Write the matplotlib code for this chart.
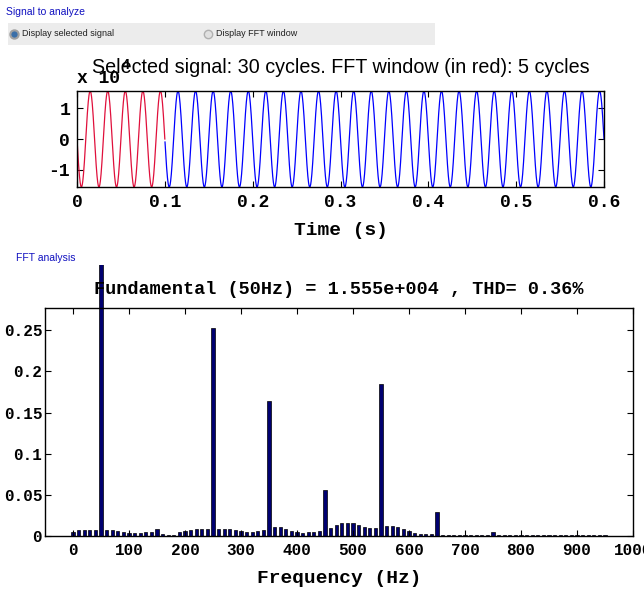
import numpy as np
import matplotlib
matplotlib.use('Agg')
import matplotlib.pyplot as plt
from matplotlib.lines import Line2D
from matplotlib.patches import Rectangle
from matplotlib.transforms import Bbox, TransformedBbox

plt.rcParams['axes.unicode_minus'] = False

# selected signal: 50 Hz, amplitude 1.555e4, 0.6 s, FFT window = first 0.1 s
f0 = 50
amp = 1.555          # x 10^4
t_end = 0.6
t_win = 0.1
time_ticks = [0, 0.1, 0.2, 0.3, 0.4, 0.5, 0.6]
time_labels = ['0', '0.1', '0.2', '0.3', '0.4', '0.5', '0.6']
sig_ticks = [-1, 0, 1]

# FFT bars, 10 Hz resolution (fundamental = 100)
freqs = list(range(0, 960, 10))
mags = [0.0045, 0.0078, 0.0078, 0.0078, 0.0078, 100, 0.007, 0.007, 0.0057, 0.0045,
        0.0033, 0.0033, 0.0033, 0.0045, 0.0045, 0.009, 0.003, 0.0016, 0.0016, 0.0045,
        0.0066, 0.0078, 0.009, 0.009, 0.009, 0.2529, 0.009, 0.009, 0.009, 0.0078,
        0.0057, 0.0045, 0.0045, 0.0066, 0.0078, 0.164, 0.0115, 0.0115, 0.009, 0.0066,
        0.0045, 0.0033, 0.0053, 0.0053, 0.0066, 0.0553, 0.0103, 0.013, 0.0156, 0.0164,
        0.0156, 0.013, 0.0115, 0.0103, 0.0103, 0.1844, 0.0123, 0.0123, 0.011, 0.009,
        0.0066, 0.0041, 0.003, 0.003, 0.003, 0.029, 0.0016, 0.0016, 0.0016, 0.0008,
        0.0008, 0.0008, 0.0016, 0.0016, 0.0016, 0.005, 0.0016, 0.0008, 0.0008, 0.0008,
        0.0008, 0.0008, 0.0008, 0.0008, 0.0008, 0.0008, 0.0008, 0.0008, 0.0008, 0.0008,
        0.0008, 0.0016, 0.0016, 0.0008, 0.0008, 0.0008]
freq_ticks = list(range(0, 1001, 100))
mag_ticks = [0, 0.05, 0.1, 0.15, 0.2, 0.25]
mag_labels = ['0', '0.05', '0.1', '0.15', '0.2', '0.25']

W, H = 644, 591
mono = dict(family='Liberation Mono', weight='bold')
narrow = ['Liberation Sans Narrow', 'Liberation Sans']

def px(x, y):
    return x / W, 1 - y / H

fig = plt.figure(figsize=(W / 100, H / 100), dpi=100)

# GUI bits around the plots
fig.text(*px(6, 12), 'Signal to analyze', color='#1010c0', fontsize=7.5,
         family=narrow, va='center')
fig.add_artist(Rectangle(px(8, 45), 427 / W, 22 / H, transform=fig.transFigure,
                         facecolor='#ececec', edgecolor='none'))
fig.add_artist(Line2D([14 / W], [1 - 34 / H], marker='o', markersize=6,
                      markerfacecolor='#3b6fa8', markeredgecolor='#a0a0a0',
                      markeredgewidth=1.5, transform=fig.transFigure))
fig.add_artist(Line2D([208 / W], [1 - 34 / H], marker='o', markersize=6,
                      markerfacecolor='#e0e0e0', markeredgecolor='#b0b0b0',
                      transform=fig.transFigure))
fig.text(*px(22, 34), 'Display selected signal', fontsize=6.5, family=narrow,
         va='center', color='#202020')
fig.text(*px(216, 34), 'Display FFT window', fontsize=6.5, family=narrow,
         va='center', color='#202020')
fig.text(*px(16, 258), 'FFT analysis', color='#1010c0', fontsize=7.5,
         family=narrow, va='center')

# ---- top: time signal
ax1 = fig.add_axes([77 / W, 1 - 187 / H, 527 / W, 96 / H])
t = np.linspace(0, t_end, 3001)
y = -amp * np.sin(2 * np.pi * f0 * t)
ax1.plot(t[t >= t_win], y[t >= t_win], color='#0000ff', lw=0.9)
ax1.plot(t[t <= t_win], y[t <= t_win], color='#e0103c', lw=0.9)
ax1.set_xlim(0, t_end)
ax1.set_ylim(-amp, amp)
ax1.set_xticks(time_ticks)
ax1.set_xticklabels(time_labels)
ax1.set_yticks(sig_ticks)
ax1.set_xlabel('Time (s)', fontsize=14, labelpad=8, **mono)
# exponent of the "x 10^4" multiplier sits under the title, as in the app
ax1.text(0, 1.04, 'x 10', transform=ax1.transAxes, fontsize=13, ha='left',
         va='bottom', **mono)
ax1.text(0.085, 1.2, '4', transform=ax1.transAxes, fontsize=10, ha='left',
         va='bottom', **mono)
ax1.set_title('Selected signal: 30 cycles. FFT window (in red): 5 cycles',
              fontsize=14.2, family=narrow, pad=13)

# ---- bottom: FFT bars
ax2 = fig.add_axes([45 / W, 1 - 536 / H, 588 / W, 228 / H])
bars = ax2.bar(freqs, mags, width=6, color='#000070', edgecolor='k', linewidth=0.5)
ax2.set_xlim(-50, 1000)
ax2.set_ylim(0, 0.277)
# fundamental bar runs up past the axes, up to the panel edge
tall = TransformedBbox(Bbox([[0, 0], [1, 1.19]]), ax2.transAxes)
for b in bars:
    b.set_clip_box(tall)
ax2.set_xticks(freq_ticks)
ax2.set_yticks(mag_ticks)
ax2.set_yticklabels(mag_labels)
ax2.set_xlabel('Frequency (Hz)', fontsize=14, labelpad=9, **mono)
ax2.set_title('Fundamental (50Hz) = 1.555e+004 , THD= 0.36%', fontsize=13.3,
              pad=10, **mono)

for ax, fs in ((ax1, 13), (ax2, 11.5)):
    ax.tick_params(direction='in', top=True, right=True, length=4, width=0.8,
                   labelsize=fs, pad=5)
    for lab in ax.get_xticklabels() + ax.get_yticklabels():
        lab.set_family('Liberation Mono')
        lab.set_weight('bold')
    for s in ax.spines.values():
        s.set_linewidth(1.0)
ax2.tick_params(axis='y', pad=2)

fig.savefig('out.png', dpi=100)
